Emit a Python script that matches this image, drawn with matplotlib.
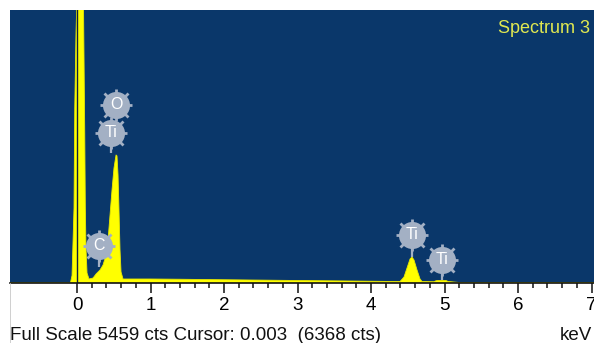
import matplotlib
matplotlib.use('Agg')
import matplotlib.pyplot as plt

# ---- data ----
energy_kev = [-0.912, -0.090, -0.068, -0.041, -0.031, -0.014, 0.014, 0.048, 0.082, 0.105,
              0.113, 0.122, 0.136, 0.163, 0.218, 0.259, 0.313, 0.354, 0.395, 0.422,
              0.449, 0.476, 0.503, 0.531, 0.544, 0.558, 0.571, 0.585, 0.599, 0.626,
              1.00, 1.40, 1.70, 2.35, 3.00, 3.70, 4.30, 4.395, 4.449, 4.490,
              4.531, 4.558, 4.585, 4.626, 4.667, 4.694, 4.857, 4.884, 4.910, 5.020,
              5.050, 5.200, 7.034]
counts = [0, 0, 150, 1500, 3500, 5000, 6500, 7000, 6500, 3000,
          1500, 700, 200, 80, 100, 180, 260, 360, 560, 860,
          1360, 1860, 2300, 2560, 2540, 2160, 1460, 660, 220, 80,
          80, 75, 70, 60, 50, 40, 30, 30, 120, 300,
          480, 520, 460, 260, 80, 30, 25, 45, 50, 50,
          30, 10, 10]

label_names = ['O', 'Ti', 'C', 'Ti', 'Ti']
label_energy = [0.531, 0.463, 0.293, 4.554, 4.962]
label_counts = [3560, 3000, 740, 960, 460]
stem_end_counts = [None, 2600, 320, 520, 60]

major_ticks = [0, 1, 2, 3, 4, 5, 6, 7]
full_scale = 5459
cursor_kev = 0.003
cursor_cts = 6368
spectrum_name = 'Spectrum 3'

# ---- figure ----
W, H = 594, 343
fig = plt.figure(figsize=(W / 100, H / 100), dpi=100)
fig.patch.set_facecolor('white')
ax = fig.add_axes([10 / W, 60 / H, 584 / W, 273 / H])
ax.set_facecolor('#0a376a')
ax.set_xlim(-0.912, 7.034)
ax.set_ylim(0, full_scale)

ax.fill_between(energy_kev, counts, 0, color='#ffff00', lw=0.6, edgecolor='#e8e800', zorder=2)
ax.axvline(cursor_kev, color='#0c1f3f', lw=1.0, zorder=3)

gray = '#a3b0c4'
for name, e, c, s in zip(label_names, label_energy, label_counts, stem_end_counts):
    if s is not None:
        ax.plot([e, e], [c, s], color=gray, lw=1.6, zorder=4, solid_capstyle='butt')
    ax.plot([e], [c], marker='+', ms=23, mew=2.0, color=gray, zorder=5, linestyle='none')
    ax.plot([e], [c], marker='x', ms=17, mew=2.0, color=gray, zorder=5, linestyle='none')
    ax.plot([e], [c], marker='o', ms=19.5, mew=0, color=gray, zorder=6, linestyle='none')
    ax.text(e, c, name, color='white', fontsize=11.5, family='Liberation Sans',
            ha='center', va='center', zorder=7)

ax.text(0.993, 0.965, spectrum_name, transform=ax.transAxes, color='#e0e850',
        fontsize=13, family='Liberation Sans', ha='right', va='top', zorder=8)

for sp in ['top', 'left', 'right']:
    ax.spines[sp].set_visible(False)
ax.spines['bottom'].set_color('#111111')
ax.spines['bottom'].set_linewidth(1.2)
ax.spines['bottom'].set_zorder(9)

ax.set_yticks([])
ax.set_xticks(major_ticks)
ax.set_xticklabels([str(t) for t in major_ticks], family='Liberation Sans', fontsize=13.5)
minor = [i * 0.2 for i in range(0, 36)]
ax.set_xticks(minor, minor=True)
ax.tick_params(axis='x', which='major', direction='out', length=7, width=1.1, color='#111111', pad=3)
ax.tick_params(axis='x', which='minor', direction='out', length=3.8, width=1.1, color='#111111')

# left border of the white footer
fig.add_artist(plt.Line2D([10 / W, 10 / W], [0, 60 / H], color='#c8c8c8', lw=0.6,
                          transform=fig.transFigure))

fig.text(10 / W, 3 / H, f'Full Scale {full_scale} cts Cursor: {cursor_kev:.3f}  ({cursor_cts} cts)',
         family='Liberation Sans', fontsize=13.5, ha='left', va='baseline', color='#111111')
fig.text(592 / W, 3 / H, 'keV', family='Liberation Sans', fontsize=13.5,
         ha='right', va='baseline', color='#111111')

fig.savefig('out.png', dpi=100, facecolor='white')
